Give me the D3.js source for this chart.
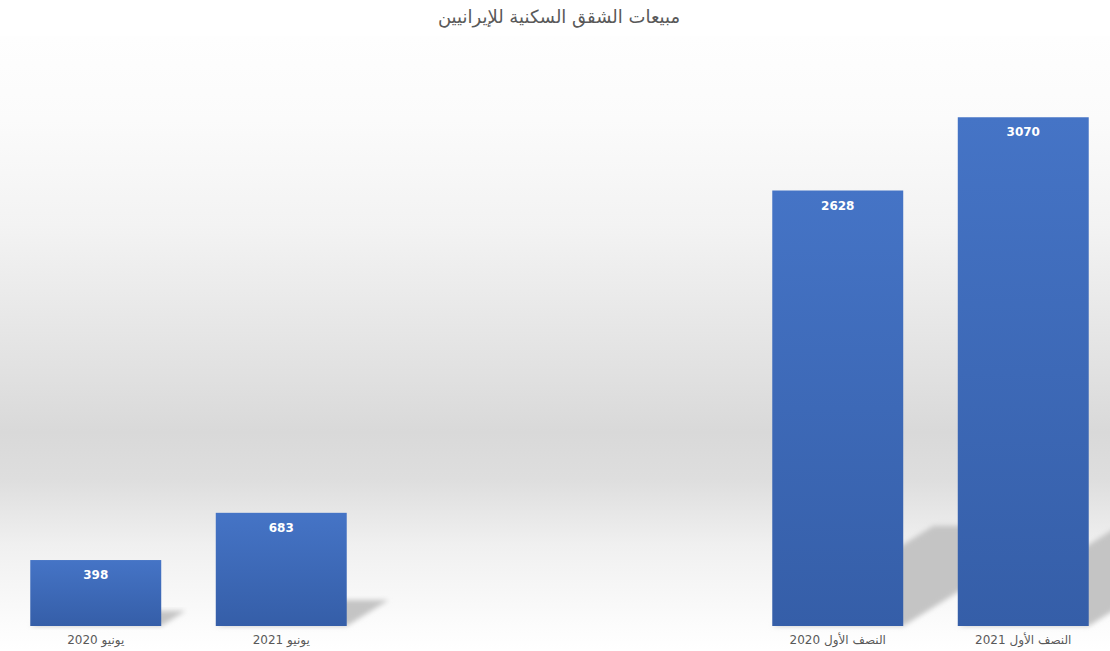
<!DOCTYPE html>
<html><head><meta charset="utf-8">
<script src="https://cdn.jsdelivr.net/npm/d3@7/dist/d3.min.js"></script>
<style>html,body{margin:0;padding:0;background:#fff;}svg{display:block;}</style>
</head><body>
<svg id="c" width="1110" height="651"></svg>
<script>
const title = "مبيعات الشقق السكنية للإيرانيين";
const categories = ["يونيو 2020", "يونيو 2021", "", "", "النصف الأول 2020", "النصف الأول  2021"];
const values = [398, 683, null, null, 2628, 3070];
const yDomain = [0, 3500];

const W = 1110, H = 651;
const svg = d3.select("#c");
const defs = svg.append("defs");

const bg = defs.append("linearGradient").attr("id","bg").attr("gradientUnits","userSpaceOnUse")
  .attr("x1",0).attr("y1",36).attr("x2",0).attr("y2",651);
[[36,"#fefefe"],[120,"#fbfbfb"],[225,"#f3f3f3"],[380,"#e0e0e0"],[432,"#d9d9d9"],[480,"#dedede"],[545,"#f0f0f0"],[626,"#fcfcfc"],[651,"#ffffff"]]
  .forEach(([y,c])=>bg.append("stop").attr("offset",((y-36)/(651-36))).attr("stop-color",c));

const bar = defs.append("linearGradient").attr("id","bar").attr("x1",0).attr("y1",0).attr("x2",0).attr("y2",1);
bar.append("stop").attr("offset",0).attr("stop-color","#4574c6");
bar.append("stop").attr("offset",1).attr("stop-color","#355ea8");

const blur = defs.append("filter").attr("id","blur").attr("x","-20%").attr("y","-20%").attr("width","140%").attr("height","140%");
blur.append("feGaussianBlur").attr("stdDeviation",2.5);

svg.append("rect").attr("x",0).attr("y",0).attr("width",W).attr("height",H).attr("fill","#fff");
svg.append("rect").attr("x",0).attr("y",36).attr("width",W).attr("height",H-36).attr("fill","url(#bg)");

const x = d3.scaleBand().domain(d3.range(categories.length)).range([3, 1116]).paddingInner(0.294).paddingOuter(0.147);
const y = d3.scaleLinear().domain(yDomain).range([626, 46]);

const data = values.map((v,i)=>({i, v, label: categories[i]})).filter(d=>d.v!=null);
const base = y(0);

// shadows
svg.append("g").selectAll("path").data(data).join("path")
  .attr("d", d=>{
    const h = base - y(d.v);
    const dx = 0.37*h, dy = 0.23*h;
    const x0 = x(d.i), x1 = x(d.i)+x.bandwidth();
    return `M${x0},${base}L${x1},${base}L${x1+dx},${base-dy}L${x0+dx},${base-dy}Z`;
  })
  .attr("fill","#c4c4c4").attr("filter","url(#blur)");

svg.append("g").selectAll("rect").data(data).join("rect")
  .attr("x", d=>x(d.i)).attr("width", x.bandwidth())
  .attr("y", d=>y(d.v)).attr("height", d=>base - y(d.v))
  .attr("fill","url(#bar)");

svg.append("g").selectAll("text").data(data).join("text")
  .attr("x", d=>x(d.i)+x.bandwidth()/2).attr("y", d=>y(d.v)+19)
  .attr("text-anchor","middle").attr("fill","#fff")
  .attr("font-family","'DejaVu Sans', sans-serif").attr("font-weight","bold").attr("font-size",12)
  .text(d=>d.v);

const xAxis = d3.axisBottom(x).tickSize(0).tickPadding(9).tickFormat(i=>categories[i]);
const gx = svg.append("g").attr("transform",`translate(0,${base})`).call(xAxis);
gx.select(".domain").remove();
gx.selectAll("text").attr("fill","#595959").attr("font-size",12)
  .attr("font-family","'DejaVu Sans', sans-serif").attr("direction","rtl");

svg.append("text").attr("x",559).attr("y",23).attr("text-anchor","middle")
  .attr("fill","#595959").attr("font-size",18).attr("font-family","'DejaVu Sans', sans-serif")
  .text(title);
</script>
</body></html>
